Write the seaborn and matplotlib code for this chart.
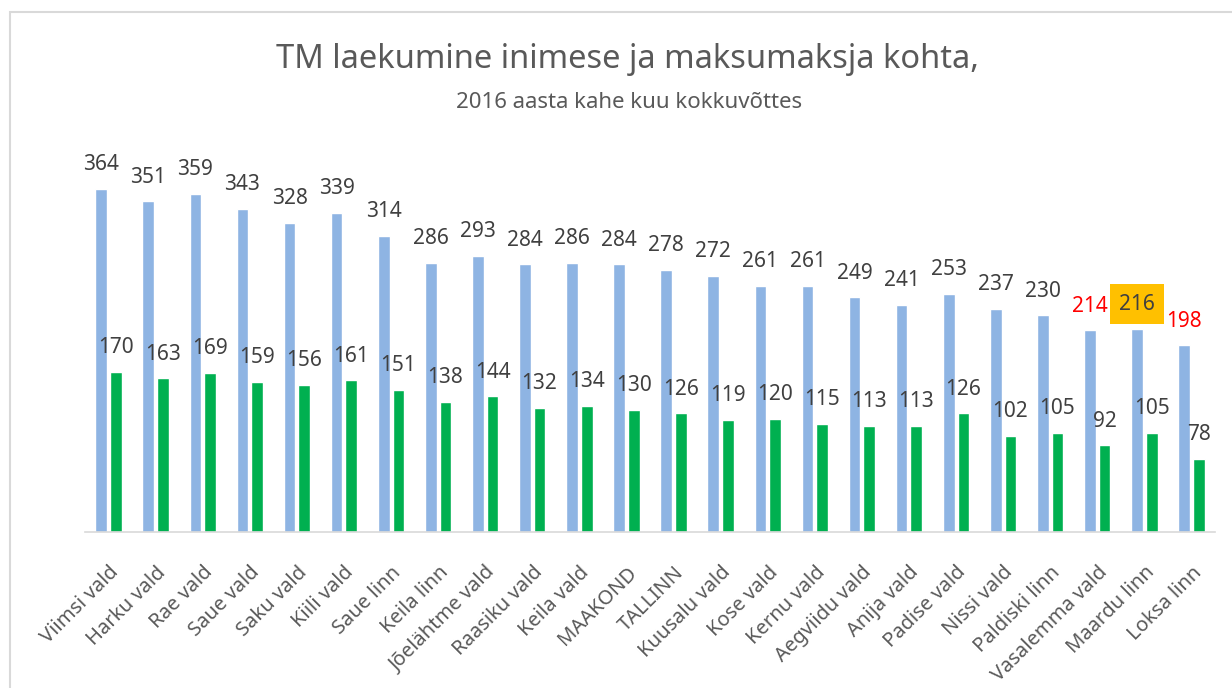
import matplotlib
matplotlib.use("Agg")
import matplotlib.pyplot as plt
import seaborn as sns
import pandas as pd
from matplotlib.patches import Rectangle

categories = ["Viimsi vald", "Harku vald", "Rae vald", "Saue vald", "Saku vald", "Kiili vald",
              "Saue linn", "Keila linn", "Jõelähtme vald", "Raasiku vald", "Keila vald", "MAAKOND",
              "TALLINN", "Kuusalu vald", "Kose vald", "Kernu vald", "Aegviidu vald", "Anija vald",
              "Padise vald", "Nissi vald", "Paldiski linn", "Vasalemma vald", "Maardu linn", "Loksa linn"]
per_person = [364, 351, 359, 343, 328, 339, 314, 286, 293, 284, 286, 284,
              278, 272, 261, 261, 249, 241, 253, 237, 230, 214, 216, 198]
per_taxpayer = [170, 163, 169, 159, 156, 161, 151, 138, 144, 132, 134, 130,
                126, 119, 120, 115, 113, 113, 126, 102, 105, 92, 105, 78]
series_names = ["inimese kohta", "maksumaksja kohta"]
red_labels = {"Vasalemma vald", "Loksa linn"}
boxed_labels = {"Maardu linn"}

sns.set_theme(style="white")
plt.rcParams['font.family'] = ['Noto Sans', 'DejaVu Sans']

df = pd.DataFrame({
    "kategooria": categories * 2,
    "seeria": [series_names[0]] * len(categories) + [series_names[1]] * len(categories),
    "väärtus": per_person + per_taxpayer,
})

fig = plt.figure(figsize=(12.32, 6.88), dpi=100)
W, H = 1232, 688
ax = fig.add_axes([85 / W, 1 - 532 / H, (1215 - 85) / W, (532 - 150) / H])

sns.barplot(data=df, x="kategooria", y="väärtus", hue="seeria",
            palette=["#8eb4e3", "#00b050"], width=0.62, gap=0.2,
            legend=False, ax=ax, saturation=1)

ax.set_ylim(0, 405.5)
ax.set_xlim(-0.5, len(categories) - 0.5)
ax.set_xlabel("")
ax.set_ylabel("")
ax.set_yticks([])
for s in ["top", "right", "left"]:
    ax.spines[s].set_visible(False)
ax.spines["bottom"].set_color("#d9d9d9")
ax.spines["bottom"].set_linewidth(1.2)
ax.tick_params(axis="x", length=0, pad=22)
ax.set_xticks(range(len(categories)))
ax.set_xticklabels(categories, rotation=45, ha="right", rotation_mode="anchor",
                   fontsize=14.5, color="#595959")

for ci, cont in enumerate(ax.containers):
    vals = per_person if ci == 0 else per_taxpayer
    for i, bar in enumerate(cont):
        x = bar.get_x() + bar.get_width() / 2
        y = bar.get_height()
        color = "#404040"
        bbox = None
        if ci == 0 and categories[i] in red_labels:
            color = "#ff0000"
        if ci == 0 and categories[i] in boxed_labels:
            bbox = dict(boxstyle="square,pad=0.45", fc="#ffc000", ec="none")
        ax.annotate(str(vals[i]), (x, y), xytext=(0, 13.5), textcoords="offset points",
                    ha="center", va="baseline", fontsize=15, color=color,
                    bbox=bbox, annotation_clip=False)

fig.text(0.509, 1 - 60 / H, "TM laekumine inimese ja maksumaksja kohta,",
         ha="center", va="center", fontsize=23.5, color="#595959")
fig.text(0.511, 1 - 103 / H, "2016 aasta kahe kuu kokkuvõttes",
         ha="center", va="center", fontsize=16, color="#595959")

# chart border (top and left visible)
fig.patches.append(Rectangle((10 / W, -0.1), 1.2, 1 - 12 / H + 0.1, transform=fig.transFigure,
                             fill=False, ec="#d9d9d9", lw=1.5, zorder=0))

fig.savefig("out.png", dpi=100)
